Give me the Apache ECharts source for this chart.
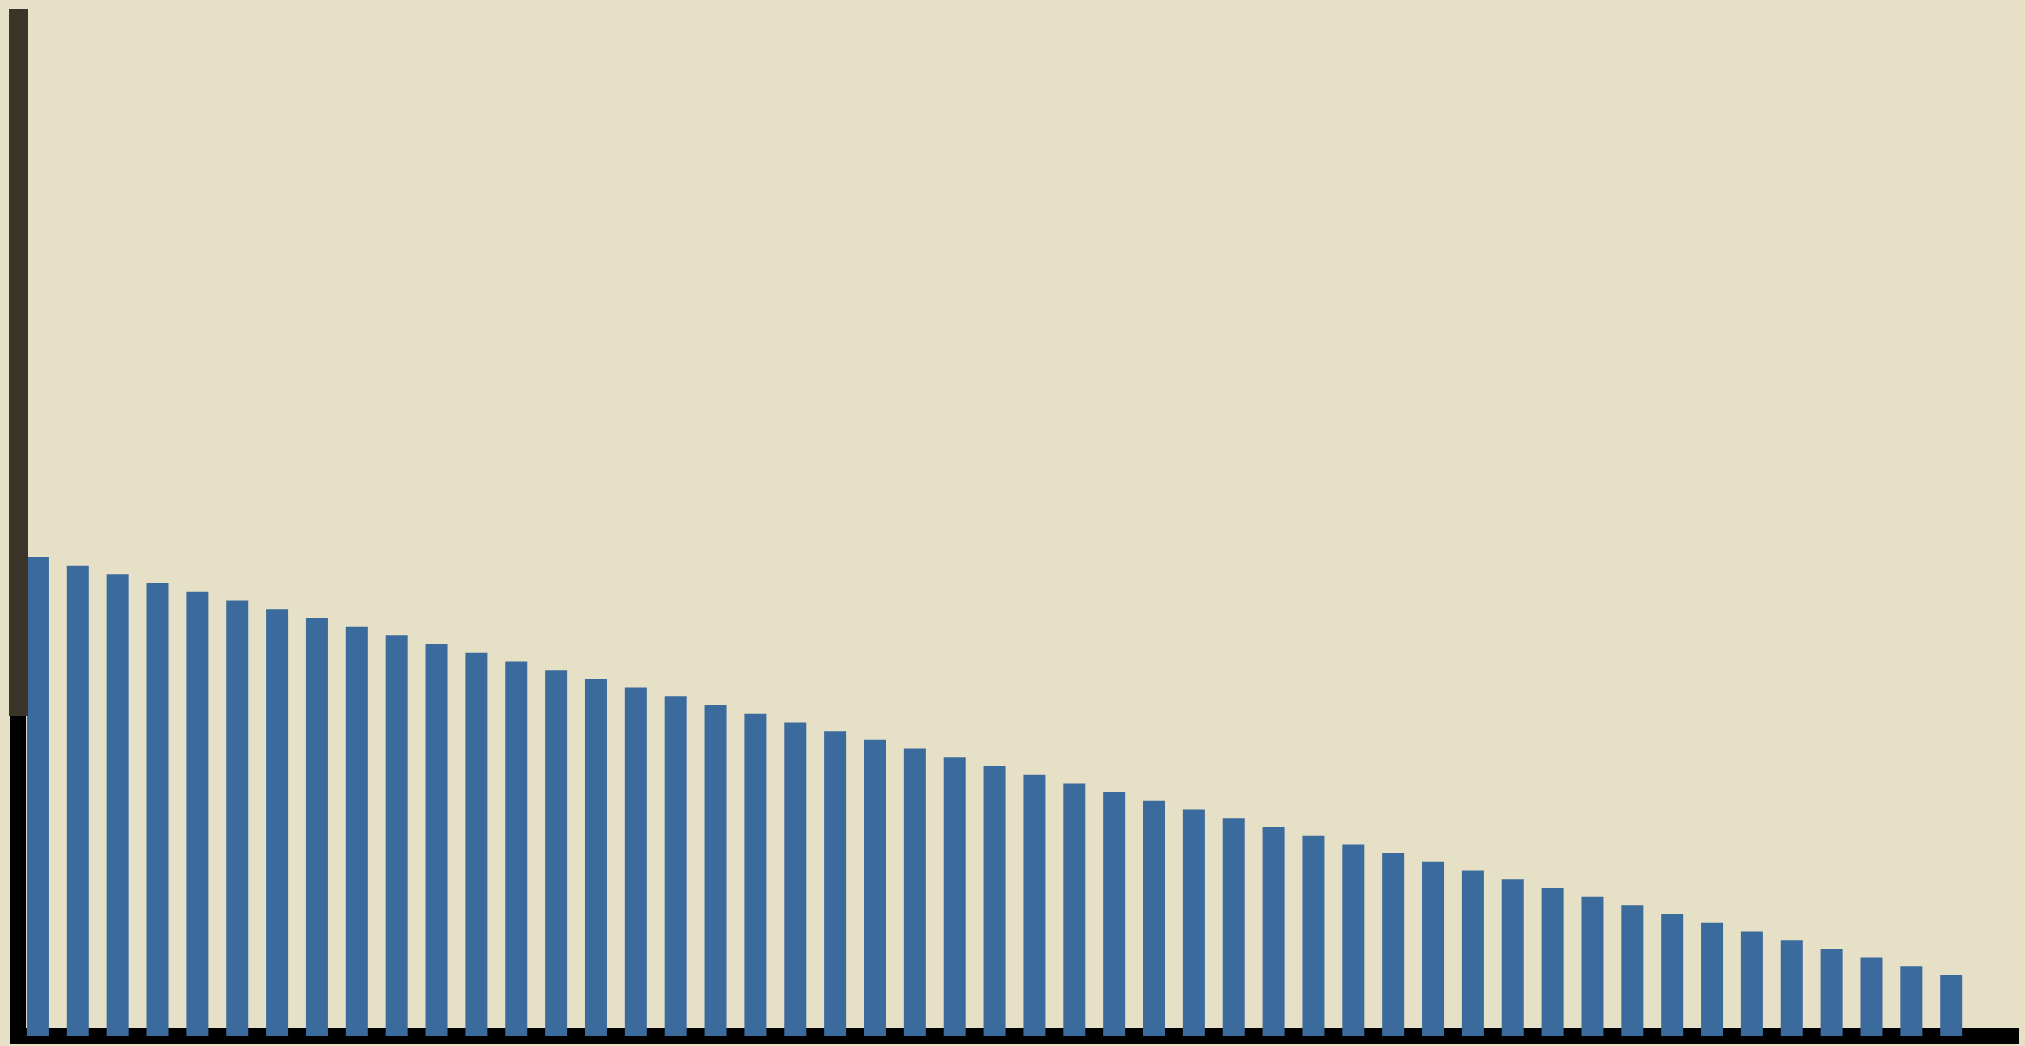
<!DOCTYPE html>
<html>
<head>
<meta charset="utf-8">
<script src="https://cdn.jsdelivr.net/npm/echarts@6/dist/echarts.min.js"></script>
<style>
  html, body { margin: 0; padding: 0; background: #e6e1c6; }
  #chart { width: 2025px; height: 1046px; }
</style>
</head>
<body>
<div id="chart"></div>
<script>
const categories = ['1','2','3','4','5','6','7','8','9','10','11','12','13','14','15','16','17','18','19','20','21','22','23','24','25','26','27','28','29','30','31','32','33','34','35','36','37','38','39','40','41','42','43','44','45','46','47','48','49','50'];
const values = [55,54,53,52,51,50,49,48,47,46,45,44,43,42,41,40,39,38,37,36,35,34,33,32,31,30,29,28,27,26,25,24,23,22,21,20,19,18,17,16,15,14,13,12,11,10,9,8,7,null];
const yMax = 100;

const chart = echarts.init(document.getElementById('chart'));
chart.setOption({
  backgroundColor: '#e6e1c6',
  animation: false,
  grid: [
    { left: 18, right: 14, top: 165, bottom: 10 },
    { left: 18.5, width: 1, top: 9, height: 707 }
  ],
  xAxis: [
    {
      type: 'category', data: categories, gridIndex: 0,
      axisLine: { show: true, lineStyle: { color: '#000000', width: 16, cap: 'square' } },
      axisTick: { show: false }, axisLabel: { show: false }, splitLine: { show: false }
    },
    {
      type: 'value', gridIndex: 1, min: 0, max: 1, show: false
    }
  ],
  yAxis: [
    {
      type: 'value', gridIndex: 0, min: 0, max: yMax,
      axisLine: { show: true, lineStyle: { color: '#000000', width: 16, cap: 'square' } },
      axisTick: { show: false }, axisLabel: { show: false }, splitLine: { show: false }
    },
    {
      type: 'value', gridIndex: 1, min: 0, max: 1, z: 5,
      axisLine: { show: true, lineStyle: { color: '#3b3429', width: 19, cap: 'butt' } },
      axisTick: { show: false }, axisLabel: { show: false }, splitLine: { show: false }
    }
  ],
  series: [
    {
      type: 'bar', xAxisIndex: 0, yAxisIndex: 0,
      data: values, barWidth: 22,
      itemStyle: { color: '#3b6a9c' }
    }
  ]
});
</script>
</body>
</html>
